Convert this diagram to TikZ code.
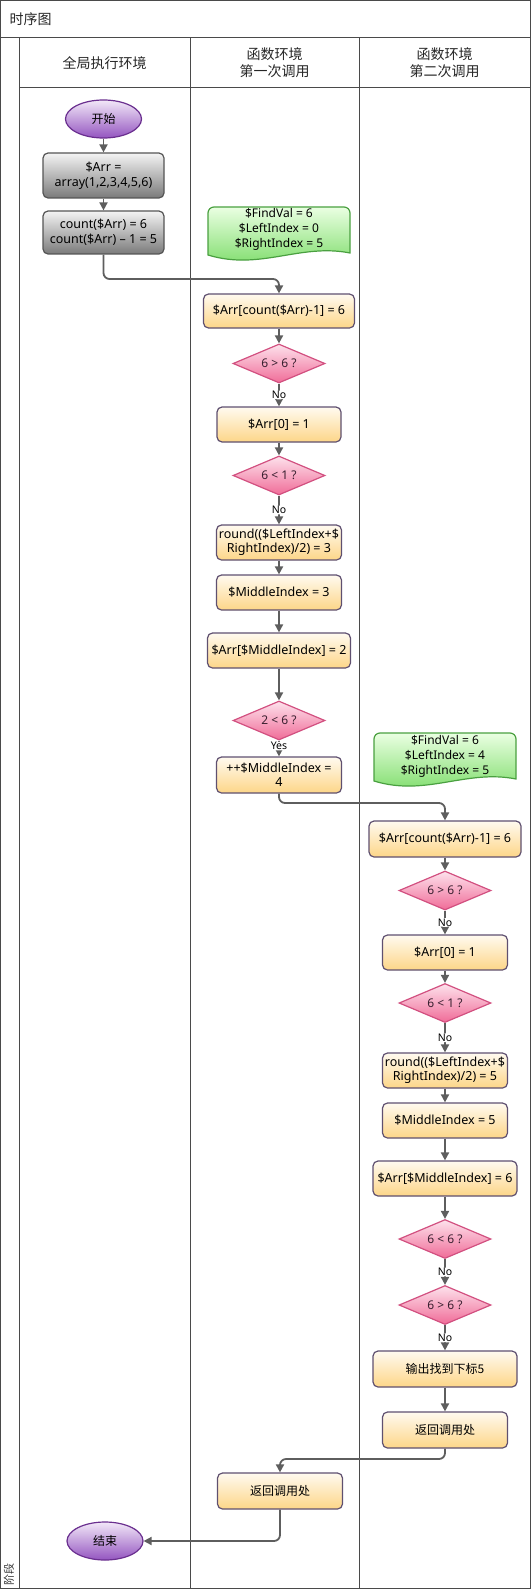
\documentclass[tikz,border=0pt]{standalone}
\usepackage{fontspec}
\setmainfont{Noto Sans}
\newfontfamily\cjk{Noto Sans CJK SC}
\usetikzlibrary{shapes.geometric,arrows.meta}
\definecolor{frame}{HTML}{4A4A4A}
\definecolor{conncol}{HTML}{5E5E5E}
\definecolor{obd}{HTML}{5F5070}
\definecolor{otop}{HTML}{FFFAF0}
\definecolor{obot}{HTML}{FDD688}
\definecolor{gbd}{HTML}{555555}
\definecolor{gtop}{HTML}{F4F4F4}
\definecolor{gbot}{HTML}{7A7A7A}
\definecolor{pbd}{HTML}{6A2F8F}
\definecolor{ptop}{HTML}{F2E8F8}
\definecolor{pbot}{HTML}{9455C0}
\definecolor{dbd}{HTML}{D25080}
\definecolor{dtop}{HTML}{FDE2EC}
\definecolor{dbot}{HTML}{F06C98}
\definecolor{dtext}{HTML}{3A2030}
\definecolor{nbd}{HTML}{4AA040}
\definecolor{ntop}{HTML}{EAFFE2}
\definecolor{nbot}{HTML}{76DA62}
\begin{document}
\begin{tikzpicture}[x=1pt,y=-1pt,
  lane/.style={draw=frame,line width=1pt},
  obox/.style={draw=obd,line width=1.2pt,rounded corners=5pt,top color=otop,bottom color=obot,
    align=center,font=\fontsize{12.5}{14}\selectfont,inner sep=1pt,minimum width=125pt,minimum height=35pt},
  gbox/.style={draw=gbd,line width=1.2pt,rounded corners=5pt,top color=gtop,bottom color=gbot,
    align=center,font=\fontsize{12.5}{15}\selectfont,inner sep=1pt,minimum width=121pt},
  terminal/.style={ellipse,draw=pbd,line width=1.2pt,top color=ptop,bottom color=pbot,
    minimum width=76pt,minimum height=38pt,inner sep=0pt,font=\cjk\fontsize{12}{14}\selectfont},
  decision/.style={diamond,draw=dbd,line width=1.2pt,top color=dtop,bottom color=dbot,
    aspect=2.36,minimum width=92pt,minimum height=39pt,inner sep=0pt,text=dtext,
    font=\fontsize{12}{13}\selectfont},
  notebg/.style={draw=nbd,line width=1.2pt,top color=ntop,bottom color=nbot},
  notetext/.style={align=center,font=\fontsize{12}{15}\selectfont,inner sep=0pt},
  conn/.style={draw=conncol,line width=1.8pt,rounded corners=6pt,
    -{Triangle[length=8pt,width=8pt]}},
  lbl/.style={fill=white,inner sep=0.5pt,font=\fontsize{10.5}{11}\selectfont,text=black},
  hdr/.style={font=\cjk\fontsize{14}{17}\selectfont,align=center,text=black!85}
]
\useasboundingbox (0,0) rectangle (531,1589);
% frame and lanes
\draw[lane] (0.5,0.5) rectangle (530.5,1588.5);
\draw[lane] (0.5,38) -- (530.5,38);
\draw[lane] (19,38) -- (19,1588.5);
\draw[lane] (19,88) -- (530.5,88);
\draw[lane] (190,38) -- (190,1588.5);
\draw[lane] (359,38) -- (359,1588.5);
\node[hdr,anchor=west] (title) at (6,19.5) {时序图};
\node[hdr] (h1) at (104.5,63) {全局执行环境};
\node[hdr] (h2) at (274.5,63) {函数环境\\第一次调用};
\node[hdr] (h3) at (444.5,63) {函数环境\\第二次调用};
\node[font=\cjk\fontsize{11}{12}\selectfont,rotate=90,text=black!80] (stage) at (9,1574) {阶段};
% column 1
\node[terminal] (start) at (103.5,119) {开始};
\node[gbox,minimum height=45pt] (arr) at (103.5,175.5) {\$Arr =\\array(1,2,3,4,5,6)};
\node[gbox,minimum height=43pt] (cnt) at (103.5,232.5) {count(\$Arr) = 6\\count(\$Arr) – 1 = 5};
% notes
\path[notebg] (208,255) [rounded corners=6pt] -- (208,207) -- (350,207) [sharp corners] -- (350,253)
  .. controls (300,243) and (260,271) .. (208,255) -- cycle;
\node[notetext] (g1) at (279,229.5) {\$FindVal = 6\\\$LeftIndex = 0\\\$RightIndex = 5};
\path[notebg] (374,781) [rounded corners=6pt] -- (374,733) -- (516,733) [sharp corners] -- (516,779)
  .. controls (466,769) and (426,797) .. (374,781) -- cycle;
\node[notetext] (g2) at (445,756) {\$FindVal = 6\\\$LeftIndex = 4\\\$RightIndex = 5};
% column 2
\node[obox,minimum width=151pt,minimum height=34pt] (b1) at (279,311) {\$Arr[count(\$Arr)-1] = 6};
\node[decision] (d1) at (279,363.5) {6 > 6 ?};
\node[obox,minimum width=124pt] (b2) at (279,424.5) {\$Arr[0] = 1};
\node[decision] (d2) at (279,475.5) {6 < 1 ?};
\node[obox] (b3) at (279,542.5) {round((\$LeftIndex+\$\\RightIndex)/2) = 3};
\node[obox] (b4) at (279,592.5) {\$MiddleIndex = 3};
\node[obox,minimum width=143pt] (b5) at (279,650.5) {\$Arr[\$MiddleIndex] = 2};
\node[decision] (d3) at (279,720.5) {2 < 6 ?};
\node[obox,minimum height=36pt] (b6) at (279,775) {++\$MiddleIndex =\\4};
\node[obox,minimum height=36pt,font=\cjk\fontsize{12}{14}\selectfont] (b14) at (280,1491) {返回调用处};
% column 3
\node[obox,minimum width=152pt,minimum height=36pt] (b7) at (445,839) {\$Arr[count(\$Arr)-1] = 6};
\node[decision] (d4) at (445,890.5) {6 > 6 ?};
\node[obox] (b8) at (445,952.5) {\$Arr[0] = 1};
\node[decision] (d5) at (445,1003) {6 < 1 ?};
\node[obox] (b9) at (445,1070.5) {round((\$LeftIndex+\$\\RightIndex)/2) = 5};
\node[obox] (b10) at (445,1120.5) {\$MiddleIndex = 5};
\node[obox,minimum width=144pt] (b11) at (445,1178.5) {\$Arr[\$MiddleIndex] = 6};
\node[decision] (d6) at (445,1239) {6 < 6 ?};
\node[decision] (d7) at (445,1305) {6 > 6 ?};
\node[obox,minimum width=144pt,minimum height=36pt,font=\cjk\fontsize{12}{14}\selectfont] (b12) at (445,1369) {输出找到下标5};
\node[obox,minimum height=36pt,font=\cjk\fontsize{12}{14}\selectfont] (b13) at (445,1430) {返回调用处};
\node[terminal] (end) at (105,1541) {结束};
% junction levels
\coordinate (j1) at (0,279);
\coordinate (j2) at (0,803);
\coordinate (j3) at (0,1459);
% connectors
\draw[conn] (start) -- (arr);
\draw[conn] (arr) -- (cnt);
\draw[conn] (cnt.south) -- (cnt.south |- j1) -- (b1.north |- j1) -- (b1.north);
\draw[conn] (b1) -- (d1);
\draw[conn] (d1) -- node[lbl] {No} (b2);
\draw[conn] (b2) -- (d2);
\draw[conn] (d2) -- node[lbl] {No} (b3);
\draw[conn] (b3) -- (b4);
\draw[conn] (b4) -- (b5);
\draw[conn] (b5) -- (d3);
\draw[conn] (d3) -- node[lbl,pos=0.35] {Yes} (b6);
\draw[conn] (b6.south) -- (b6.south |- j2) -- (b7.north |- j2) -- (b7.north);
\draw[conn] (b7) -- (d4);
\draw[conn] (d4) -- node[lbl] {No} (b8);
\draw[conn] (b8) -- (d5);
\draw[conn] (d5) -- node[lbl] {No} (b9);
\draw[conn] (b9) -- (b10);
\draw[conn] (b10) -- (b11);
\draw[conn] (b11) -- (d6);
\draw[conn] (d6) -- node[lbl] {No} (d7);
\draw[conn] (d7) -- node[lbl] {No} (b12);
\draw[conn] (b12) -- (b13);
\draw[conn] (b13.south) -- (b13.south |- j3) -- (b14.north |- j3) -- (b14.north);
\draw[conn] (b14.south) |- (end.east);
\end{tikzpicture}
\end{document}
